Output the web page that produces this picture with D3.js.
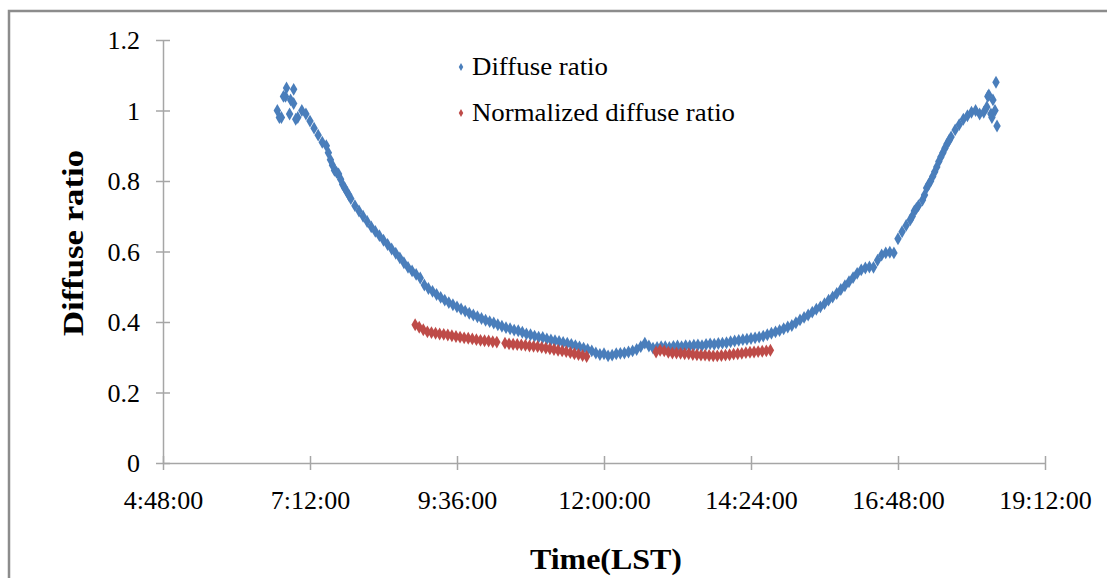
<!DOCTYPE html>
<html>
<head>
<meta charset="utf-8">
<script src="https://cdn.jsdelivr.net/npm/d3@7"></script>
<style>
  body { margin: 0; background: #fff; }
  svg { display: block; font-family: 'Liberation Serif', 'Times New Roman', serif; }
</style>
</head>
<body>
<svg id="chart"></svg>
<script>
// x tick labels and y ticks
const xTickLabels = ['4:48:00', '7:12:00', '9:36:00', '12:00:00', '14:24:00', '16:48:00', '19:12:00']
const yTicks = [0, 0.2, 0.4, 0.6, 0.8, 1, 1.2]

// diffuse ratio, one reading every 4 minutes from 6:40
const diffuseStart = '6:40'
const diffuseValues = [
  1.00, 0.98, 1.04, 0.99, 1.06, 0.98, 1.00, 0.99, 0.97, 0.95, 0.93, 0.91, 0.90, 0.86, 0.83, 0.82,
  0.79, 0.77, 0.75, 0.73, 0.715, 0.70, 0.685, 0.67, 0.657, 0.645, 0.632, 0.62, 0.607, 0.595, 0.582, 0.568,
  0.555, 0.545, 0.535, 0.525, 0.505, 0.495, 0.487, 0.478, 0.47, 0.462, 0.455, 0.449, 0.443, 0.437, 0.431, 0.425,
  0.42, 0.415, 0.41, 0.405, 0.401, 0.397, 0.392, 0.388, 0.384, 0.381, 0.377, 0.375, 0.371, 0.366, 0.364, 0.36,
  0.357, 0.356, 0.352, 0.349, 0.347, 0.345, 0.342, 0.34, 0.336, 0.333, 0.329, 0.326, 0.322, 0.318, 0.312, 0.308,
  0.31, 0.304, 0.306, 0.31, 0.311, 0.312, 0.315, 0.318, 0.322, 0.33, 0.34, 0.332, 0.326, 0.328, 0.33, 0.33,
  0.328, 0.331, 0.332, 0.33, 0.333, 0.332, 0.334, 0.335, 0.333, 0.336, 0.338, 0.337, 0.339, 0.34, 0.341, 0.344,
  0.346, 0.348, 0.35, 0.351, 0.353, 0.355, 0.357, 0.36, 0.364, 0.368, 0.372, 0.376, 0.381, 0.386, 0.39, 0.398,
  0.406, 0.413, 0.42, 0.428, 0.436, 0.443, 0.452, 0.462, 0.471, 0.481, 0.492, 0.503, 0.514, 0.526, 0.538, 0.548,
  0.553, 0.556, 0.555, 0.575, 0.59, 0.596, 0.598, 0.596, 0.636, 0.656, 0.674, 0.69, 0.715, 0.73, 0.746, 0.78,
  0.80, 0.826, 0.855, 0.88, 0.905, 0.925, 0.945, 0.96, 0.975, 0.985, 0.995, 1.00, 0.99, 0.995, 1.04, 0.98,
  1.08
]
// extra readings: scatter at both ends of the day and the steep stretches
const diffuseExtraTimes = [
  '6:42', '6:46', '6:49', '6:53', '6:56', '6:58', '7:30', '7:34', '7:38', '7:42', '7:46', '7:50',
  '17:02', '17:06', '17:14', '17:18', '17:22', '17:26', '17:30', '17:34', '17:38',
  '18:15', '18:17', '18:19', '18:21', '18:23', '18:25'
]
const diffuseExtraValues = [
  0.98, 1.04, 1.064, 1.03, 1.02, 0.975, 0.88, 0.845, 0.825, 0.805, 0.78, 0.76,
  0.70, 0.722, 0.76, 0.79, 0.813, 0.84, 0.868, 0.893, 0.915,
  1.01, 1.044, 0.99, 1.03, 1.0, 0.956
]

// normalized diffuse ratio, morning and afternoon blocks, every 4 minutes
const normStartAM = '8:55'
const normValuesAM = [
  0.392, 0.385, 0.378, 0.372, 0.37, 0.368, 0.366, 0.365, 0.363, 0.361, 0.359, 0.357, 0.355, 0.354, 0.352, 0.35,
  0.348, 0.347, 0.346, 0.344, 0.343, null, 0.34, 0.338, 0.337, 0.336, 0.335, 0.334, 0.332, 0.331, 0.33, 0.328,
  0.326, 0.324, 0.322, 0.32, 0.318, 0.316, 0.313, 0.31, 0.308, 0.305, 0.302
]
const normStartPM = '12:51'
const normValuesPM = [
  0.315, 0.32, 0.318, 0.314, 0.312, 0.312, 0.311, 0.31, 0.31, 0.308, 0.307, 0.306, 0.306, 0.305, 0.304, 0.304,
  0.305, 0.306, 0.307, 0.309, 0.31, 0.311, 0.313, 0.314, 0.315, 0.316, 0.317, 0.318, 0.32
]

const SAMPLE_STEP = 4
const SVG_WIDTH = 1107
const SVG_HEIGHT = 578
const PLOT = { left: 163, right: 1045, top: 40, bottom: 463 }
const BLUE = '#4a7ebb'
const RED = '#be4b48'
const AXIS_GREY = '#a6a6a6'

const svg = d3.select('#chart').attr('width', SVG_WIDTH).attr('height', SVG_HEIGHT)
const parseTime = d3.timeParse('%H:%M')
const parseTick = d3.timeParse('%H:%M:%S')

function toSeries(start, values) {
  const t0 = parseTime(start)
  return values
    .map((v, i) => ({ time: d3.timeMinute.offset(t0, i * SAMPLE_STEP), value: v }))
    .filter(d => d.value !== null)
}

const diffuse = toSeries(diffuseStart, diffuseValues)
  .concat(diffuseExtraTimes.map((t, i) => ({ time: parseTime(t), value: diffuseExtraValues[i] })))
const normalized = toSeries(normStartAM, normValuesAM).concat(toSeries(normStartPM, normValuesPM))

const xTicks = xTickLabels.map(parseTick)
const xScale = d3.scaleTime()
  .domain([xTicks[0], xTicks[xTicks.length - 1]])
  .range([PLOT.left, PLOT.right])
const yScale = d3.scaleLinear()
  .domain([0, 1.2])
  .range([PLOT.bottom, PLOT.top])

// outer frame of the chart area
svg.append('path')
  .attr('d', `M9,${SVG_HEIGHT + 5} V11 H${SVG_WIDTH + 5}`)
  .attr('fill', 'none')
  .attr('stroke', '#8c8c8c')
  .attr('stroke-width', 2.5)

function setAxis() {
  const xAxis = d3.axisBottom(xScale)
    .tickValues(xTicks)
    .tickFormat((d, i) => xTickLabels[i])
    .tickSizeOuter(0)
  const gx = svg.append('g')
    .attr('transform', `translate(0, ${PLOT.bottom})`)
    .call(xAxis)
  gx.selectAll('.tick line').attr('y1', -7).attr('y2', 7)
  gx.selectAll('.tick text').attr('dy', 0).attr('y', 46)

  const yAxis = d3.axisLeft(yScale)
    .tickValues(yTicks)
    .tickFormat(d => String(d))
    .tickSizeOuter(0)
  const gy = svg.append('g')
    .attr('transform', `translate(${PLOT.left}, 0)`)
    .call(yAxis)
  gy.selectAll('.tick line').attr('x1', -7).attr('x2', 7)
  gy.selectAll('.tick text').attr('x', -23).attr('dy', '0.33em')

  svg.selectAll('.domain, .tick line').attr('stroke', AXIS_GREY).attr('stroke-width', 1.5)
  svg.selectAll('.tick text')
    .attr('font-family', "'Liberation Serif', serif")
    .attr('font-size', 26)
    .attr('fill', '#000')
}

function drawPoints(data, color) {
  const diamond = d3.symbol(d3.symbolDiamond).size(48)
  svg.append('g')
    .selectAll('path')
    .data(data)
    .enter()
    .append('path')
    .attr('transform', d => `translate(${xScale(d.time)}, ${yScale(d.value)})`)
    .attr('d', diamond)
    .attr('fill', color)
}

function drawLegend() {
  const items = [
    { label: 'Diffuse ratio', color: BLUE, y: 67, len: 136 },
    { label: 'Normalized diffuse ratio', color: RED, y: 113, len: 263 }
  ]
  const g = svg.append('g')
  items.forEach(item => {
    g.append('path')
      .attr('transform', `translate(461, ${item.y})`)
      .attr('d', d3.symbol(d3.symbolDiamond).size(18))
      .attr('fill', item.color)
    g.append('text')
      .attr('x', 472)
      .attr('y', item.y + 8)
      .attr('font-size', 25)
      .attr('textLength', item.len)
      .attr('lengthAdjust', 'spacingAndGlyphs')
      .text(item.label)
  })
}

function drawTitles() {
  svg.append('text')
    .attr('x', 606)
    .attr('y', 569)
    .attr('text-anchor', 'middle')
    .attr('font-size', 30)
    .attr('font-weight', 'bold')
    .attr('textLength', 152)
    .attr('lengthAdjust', 'spacingAndGlyphs')
    .text('Time(LST)')

  svg.append('text')
    .attr('transform', 'translate(83, 243) rotate(-90)')
    .attr('text-anchor', 'middle')
    .attr('font-size', 30)
    .attr('font-weight', 'bold')
    .attr('textLength', 186)
    .attr('lengthAdjust', 'spacingAndGlyphs')
    .text('Diffuse ratio')
}

setAxis()
drawPoints(diffuse, BLUE)
drawPoints(normalized, RED)
drawLegend()
drawTitles()
</script>
</body>
</html>
